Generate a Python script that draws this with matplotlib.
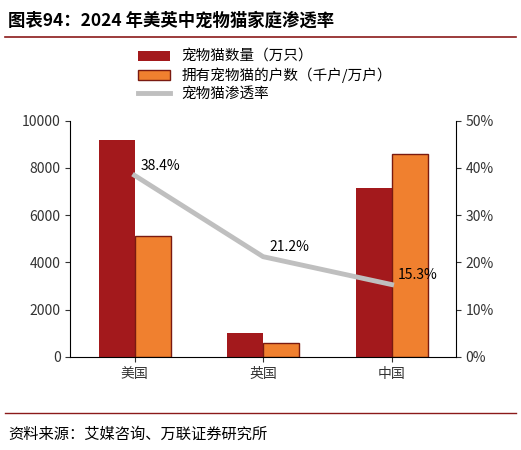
import matplotlib
matplotlib.use("Agg")
import matplotlib.pyplot as plt
import numpy as np

plt.rcParams['font.family'] = ['Noto Sans CJK SC', 'DejaVu Sans']

categories = ['美国', '英国', '中国']
cats = [9200, 1000, 7150]
households = [5100, 600, 8600]
rate = [38.4, 21.2, 15.3]
rate_labels = ['38.4%', '21.2%', '15.3%']

fig = plt.figure(figsize=(5.21, 4.5), dpi=100)
ax = fig.add_axes([0.135, 0.207, 0.74, 0.525])
x = np.arange(len(categories))
w = 0.28
ax.bar(x - w/2, cats, w, color='#A3191C', label='宠物猫数量（万只）')
ax.bar(x + w/2, households, w, color='#F0802F', edgecolor='#7A1A10', linewidth=1, label='拥有宠物猫的户数（千户/万户）')
ax.set_ylim(0, 10000)
ax.set_xlim(-0.5, 2.5)
ax.set_yticks(range(0, 10001, 2000))
ax.set_xticks(x)
ax.set_xticklabels(categories)
for s in ['top', 'right']:
    ax.spines[s].set_visible(False)
ax.tick_params(colors='#333333', labelsize=10)
ax2 = ax.twinx()
ln, = ax2.plot(x, rate, color='#BFBFBF', linewidth=3.5, label='宠物猫渗透率')
ax2.set_ylim(0, 50)
ax2.set_yticks(range(0, 51, 10))
ax2.set_yticklabels([f'{v}%' for v in range(0, 51, 10)])
for s in ['top', 'left']:
    ax2.spines[s].set_visible(False)
ax2.spines['bottom'].set_visible(False)
ax2.tick_params(colors='#333333', labelsize=10)
for xi, r, t in zip(x, rate, rate_labels):
    ax2.text(xi + 0.05, r + 0.5, t, fontsize=10, va='bottom', ha='left')

h1, l1 = ax.get_legend_handles_labels()
fig.legend(h1 + [ln], l1 + ['宠物猫渗透率'], loc='upper left', bbox_to_anchor=(0.25, 0.905),
           frameon=False, fontsize=10.5, handlelength=2.2, labelspacing=0.25, borderpad=0)

fig.text(0.015, 0.955, '图表94：2024 年美英中宠物猫家庭渗透率', fontsize=12.5, va='center', weight='bold')
fig.add_artist(plt.Line2D([0.01, 0.99], [0.918, 0.918], color='#8B1A1A', linewidth=1.2))
fig.add_artist(plt.Line2D([0.01, 0.99], [0.083, 0.083], color='#8B1A1A', linewidth=1.0))
fig.text(0.015, 0.035, '资料来源：艾媒咨询、万联证券研究所', fontsize=11, va='center', style='italic')
fig.savefig('out.png', dpi=100)
